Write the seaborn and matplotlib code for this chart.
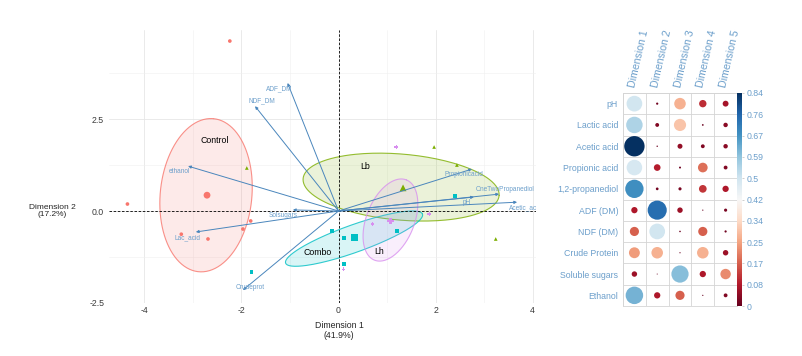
import numpy as np
import pandas as pd
import matplotlib
matplotlib.use("Agg")
import matplotlib.pyplot as plt
import seaborn as sns
from matplotlib.colors import Normalize
from matplotlib.cm import ScalarMappable

sns.set_theme(style="whitegrid")
plt.rcParams['font.family'] = ['Liberation Sans', 'DejaVu Sans']
plt.rcParams['axes.unicode_minus'] = False

# ---- individuals (PCA scores) ----
groups = ["Control", "Lb", "Combo", "Lh"]
group_colors = ["#F8766D", "#7CAE00", "#00BFC4", "#D88FEF"]
group_markers = ["o", "^", "s", "P"]

ind_group = ["Control"] * 6 + ["Lb"] * 4 + ["Combo"] * 6 + ["Lh"] * 4
ind_x = [-2.24, -4.35, -3.24, -2.69, -1.97, -1.81,
         1.97, 2.44, 3.24, -1.89,
         2.40, -0.14, 0.12, 1.21, 0.12, -1.79,
         1.19, 0.70, 1.87, 0.10]
ind_y = [4.62, 0.19, -0.63, -0.76, -0.49, -0.27,
         1.74, 1.25, -0.76, 1.17,
         0.41, -0.54, -0.73, -0.54, -1.44, -1.66,
         1.74, -0.35, -0.08, -1.58]

mean_x = [-2.71, 1.33, 0.33, 1.07]
mean_y = [0.43, 0.63, -0.73, -0.27]

# ellipse: centre, semi-axis vectors
ell_cx = [-2.73, 1.29, 0.32, 1.07]
ell_cy = [0.43, 0.65, -0.75, -0.245]
ell_major = [(0.154, 2.08), (2.02, -0.23), (1.41, 0.666), (0.33, 1.09)]
ell_minor = [(0.94, -0.12), (-0.057, -0.894), (0.095, -0.35), (0.458, -0.242)]

grp_label_x = [-2.55, 0.55, -0.43, 0.84]
grp_label_y = [1.93, 1.20, -1.14, -1.11]

# ---- variables (arrows) ----
var_names = ["ADF_DM", "NDF_DM", "ethanol", "Lac_acid", "Solsugars", "Crudeprot",
             "Propionicacid", "OneTwoPropanediol", "pH", "Acetic_acid"]
var_x = [-1.05, -1.72, -3.10, -2.94, -0.94, -1.97, 2.75, 3.31, 2.79, 3.68]
var_y = [3.48, 2.85, 1.22, -0.57, 0.03, -2.15, 1.14, 0.46, 0.38, 0.24]
lab_dx = [-6, 5, -6, -6, -7, 5, -6, 4, -5, 6]
lab_dy = [-4, 4, -4, -4, -4, 2, -4, 3, -4, -4]

# ---- cos2 table ----
rows = ["pH", "Lactic acid", "Acetic acid", "Propionic acid", "1,2-propanediol",
        "ADF (DM)", "NDF (DM)", "Crude Protein", "Soluble sugars", "Ethanol"]
dims = ["Dimension 1", "Dimension 2", "Dimension 3", "Dimension 4", "Dimension 5"]
dim1 = [0.50, 0.55, 0.84, 0.49, 0.68, 0.08, 0.17, 0.24, 0.06, 0.62]
dim2 = [0.01, 0.03, 0.004, 0.09, 0.015, 0.74, 0.50, 0.27, 0.002, 0.08]
dim3 = [0.27, 0.30, 0.05, 0.008, 0.02, 0.06, 0.005, 0.003, 0.60, 0.17]
dim4 = [0.11, 0.006, 0.03, 0.19, 0.12, 0.003, 0.17, 0.27, 0.08, 0.003]
dim5 = [0.07, 0.04, 0.04, 0.03, 0.08, 0.02, 0.01, 0.06, 0.22, 0.03]
cbar_ticks = [0, 0.084, 0.168, 0.252, 0.336, 0.42, 0.504, 0.588, 0.672, 0.756, 0.84]
cbar_labels = ["0", "0.08", "0.17", "0.25", "0.34", "0.42", "0.5", "0.59", "0.67", "0.76", "0.84"]

arrow_col = "#4A86BC"
text_blue = "#6C9FCB"

fig = plt.figure(figsize=(8.03, 3.56), dpi=100)

# ================= biplot =================
ax = fig.add_axes([109 / 803, 1 - 303 / 356, 427 / 803, 273 / 356])
ax.set_xlim(-4.73, 4.07)
ax.set_ylim(-2.5, 4.92)

t = np.linspace(0, 2 * np.pi, 200)
for i, g in enumerate(groups):
    mx, my = ell_major[i]
    nx, ny = ell_minor[i]
    ex = ell_cx[i] + mx * np.cos(t) + nx * np.sin(t)
    ey = ell_cy[i] + my * np.cos(t) + ny * np.sin(t)
    ax.fill(ex, ey, color=group_colors[i], alpha=0.15, lw=0, zorder=2)
    ax.plot(ex, ey, color=group_colors[i], alpha=0.8, lw=0.8, zorder=2)

ax.axhline(0, color="black", ls=(0, (3, 2)), lw=0.6, zorder=3)
ax.axvline(0, color="black", ls=(0, (3, 2)), lw=0.6, zorder=3)

ind = pd.DataFrame({"x": ind_x, "y": ind_y, "group": ind_group})
sns.scatterplot(data=ind, x="x", y="y", hue="group", style="group",
                hue_order=groups, style_order=groups, palette=group_colors,
                markers=group_markers, s=7, linewidth=0, legend=False, ax=ax, zorder=4)
means = pd.DataFrame({"x": mean_x, "y": mean_y, "group": groups})
sns.scatterplot(data=means, x="x", y="y", hue="group", style="group",
                hue_order=groups, style_order=groups, palette=group_colors,
                markers=group_markers, s=24, linewidth=0, legend=False, ax=ax, zorder=4)

for name, vx, vy, dx, dy in zip(var_names, var_x, var_y, lab_dx, lab_dy):
    ax.annotate("", xy=(vx, vy), xytext=(0, 0),
                arrowprops=dict(arrowstyle="-|>", color=arrow_col, lw=0.7,
                                mutation_scale=4, shrinkA=0, shrinkB=0), zorder=5)
    ax.annotate(name, xy=(vx, vy), xytext=(dx, dy), textcoords="offset points",
                ha="center", va="center", fontsize=4.7, color=text_blue,
                clip_on=True, zorder=6)

for g, lx, ly in zip(groups, grp_label_x, grp_label_y):
    ax.text(lx, ly, g, ha="center", va="center", fontsize=6.3, color="black", zorder=6)

ax.set_xticks([-4, -2, 0, 2, 4])
ax.set_xticklabels(["-4", "-2", "0", "2", "4"])
ax.set_yticks([-2.5, 0, 2.5])
ax.set_yticklabels(["-2.5", "0.0", "2.5"])
ax.set_xticks([-3, -1, 1, 3], minor=True)
ax.set_yticks([-1.25, 1.25, 3.75], minor=True)
ax.grid(which="major", color="#E6E6E6", lw=0.6)
ax.grid(which="minor", color="#EFEFEF", lw=0.4)
ax.tick_params(which="both", length=0, labelsize=6.3, labelcolor="#3A3A3A")
ax.tick_params(axis="y", pad=3.5)
ax.tick_params(axis="x", pad=2)
for s in ax.spines.values():
    s.set_visible(False)
ax.set_xlabel("Dimension 1\n(41.9%)", fontsize=6.3, linespacing=1.1)
ax.set_ylabel("Dimension 2\n(17.2%)", fontsize=6.0, rotation=0, ha="center",
              va="center", linespacing=1.1)
ax.xaxis.set_label_coords((339 - 109) / 427, -0.067)
ax.yaxis.set_label_coords((52 - 109) / 427, (303 - 211) / 273)

# ================= corrplot =================
cax = fig.add_axes([623 / 803, 1 - 306 / 356, 114 / 803, 213 / 356])
table = pd.DataFrame({d: v for d, v in zip(dims, [dim1, dim2, dim3, dim4, dim5])}, index=rows)
long = table.reset_index().melt(id_vars="index", var_name="dim", value_name="value")
long["col"] = long["dim"].map({d: i for i, d in enumerate(dims)})
long["row"] = long["index"].map({r: i for i, r in enumerate(rows)})
sns.scatterplot(data=long, x="col", y="row", hue="value", size="value",
                palette="RdBu", hue_norm=(0, 0.84), sizes=(0, 215), size_norm=(0, 0.84),
                linewidth=0, legend=False, ax=cax, zorder=3)
cax.set_xlim(-0.5, 4.5)
cax.set_ylim(9.5, -0.5)
cax.set_xticks(np.arange(-0.5, 5), minor=True)
cax.set_yticks(np.arange(-0.5, 10), minor=True)
cax.set_xticks([])
cax.set_yticks(range(len(rows)))
cax.set_yticklabels(rows)
cax.grid(which="major", visible=False)
cax.grid(which="minor", color="#D5D5D5", lw=0.6)
cax.tick_params(which="both", length=0, labelsize=6.3, labelcolor=text_blue, pad=3.5)
cax.set_xlabel("")
cax.set_ylabel("")
for s in cax.spines.values():
    s.set_visible(True)
    s.set_color("#D5D5D5")
    s.set_linewidth(0.6)
for j, d in enumerate(dims):
    cax.text(j - 0.1, -0.75, d, rotation=77, rotation_mode="anchor", ha="left", va="center",
             fontsize=7.6, color=text_blue)

cbax = fig.add_axes([737 / 803, 1 - 306 / 356, 5 / 803, 213 / 356])
cb = fig.colorbar(ScalarMappable(norm=Normalize(0, 0.84), cmap="RdBu"), cax=cbax)
cb.set_ticks(cbar_ticks)
cb.set_ticklabels(cbar_labels)
cb.outline.set_visible(False)
cbax.tick_params(length=1.5, width=0.5, color="#BBBBBB", labelsize=6.3,
                 labelcolor=text_blue, pad=1.5)

fig.savefig("out.png", dpi=100)
